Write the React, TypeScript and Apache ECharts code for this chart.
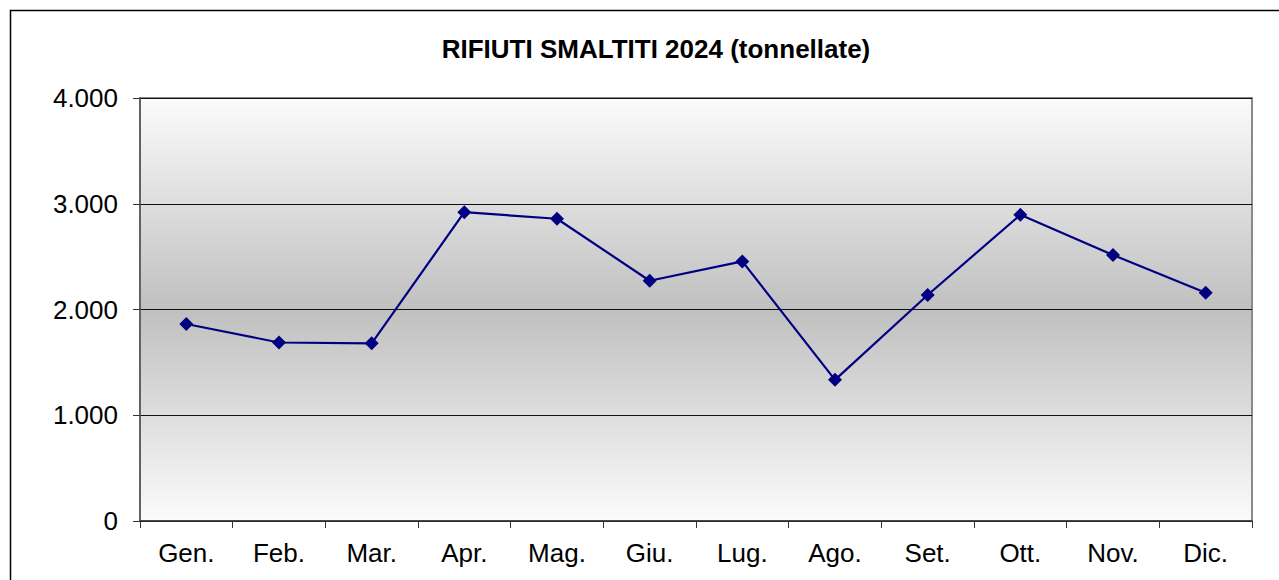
import React, { useEffect, useRef } from "react";
import * as echarts from "echarts";

const categories = ["Gen.", "Feb.", "Mar.", "Apr.", "Mag.", "Giu.", "Lug.", "Ago.", "Set.", "Ott.", "Nov.", "Dic."];
const values = [1863, 1688, 1680, 2920, 2858, 2272, 2455, 1335, 2137, 2895, 2515, 2158];
const yTicks = [0, 1000, 2000, 3000, 4000];
const title = "RIFIUTI SMALTITI 2024 (tonnellate)";

const fmt = (v: number) => (v >= 1000 ? `${Math.floor(v / 1000)}.${String(v % 1000).padStart(3, "0")}` : String(v));

export default function App() {
  const ref = useRef<HTMLDivElement>(null);
  useEffect(() => {
    if (!ref.current) return;
    const chart = echarts.init(ref.current, undefined, { renderer: "svg" });
    const font = "'Liberation Sans', Arial, sans-serif";
    chart.setOption({
      animation: false,
      backgroundColor: "#ffffff",
      textStyle: { fontFamily: font },
      graphic: [
        {
          type: "rect",
          shape: { x: 10.5, y: 10.5, width: 1300, height: 600 },
          style: { fill: "none", stroke: "#000", lineWidth: 1.5 },
          z: 100,
        },
        {
          type: "text",
          x: 656,
          y: 49,
          style: {
            text: title,
            fontFamily: font,
            fontSize: 26,
            fontWeight: "bold",
            fill: "#000",
            textAlign: "center",
            textVerticalAlign: "middle",
          },
        },
      ],
      grid: {
        left: 140,
        top: 98,
        right: 27,
        bottom: 59,
        show: true,
        borderColor: "#8a8a8a",
        borderWidth: 2,
        backgroundColor: {
          type: "linear",
          x: 0,
          y: 0,
          x2: 0,
          y2: 1,
          colorStops: [
            { offset: 0, color: "#fbfbfb" },
            { offset: 0.5, color: "#c0c0c0" },
            { offset: 1, color: "#fbfbfb" },
          ],
        },
      },
      xAxis: {
        type: "category",
        data: categories,
        boundaryGap: true,
        axisLine: { show: true, lineStyle: { color: "#333", width: 1.5 } },
        axisTick: { show: true, length: 7, alignWithLabel: false, lineStyle: { color: "#333", width: 1 } },
        axisLabel: { fontSize: 26, color: "#000", margin: 19, fontFamily: font },
        splitLine: { show: false },
      },
      yAxis: {
        type: "value",
        min: yTicks[0],
        max: yTicks[yTicks.length - 1],
        interval: 1000,
        axisLine: { show: true, lineStyle: { color: "#555", width: 1.5 } },
        axisTick: { show: true, length: 7, lineStyle: { color: "#333", width: 1 } },
        axisLabel: { fontSize: 26, color: "#000", margin: 22, fontFamily: font, formatter: (v: number) => fmt(v) },
        splitLine: { show: true, lineStyle: { color: "#111", width: 1 } },
      },
      series: [
        {
          type: "line",
          data: values,
          symbol: "diamond",
          symbolSize: 14,
          itemStyle: { color: "#000080" },
          lineStyle: { color: "#000080", width: 2.2 },
          z: 10,
        },
      ],
    });
    return () => chart.dispose();
  }, []);
  return <div ref={ref} style={{ position: "fixed", left: 0, top: 0, width: 1279, height: 580 }} />;
}
